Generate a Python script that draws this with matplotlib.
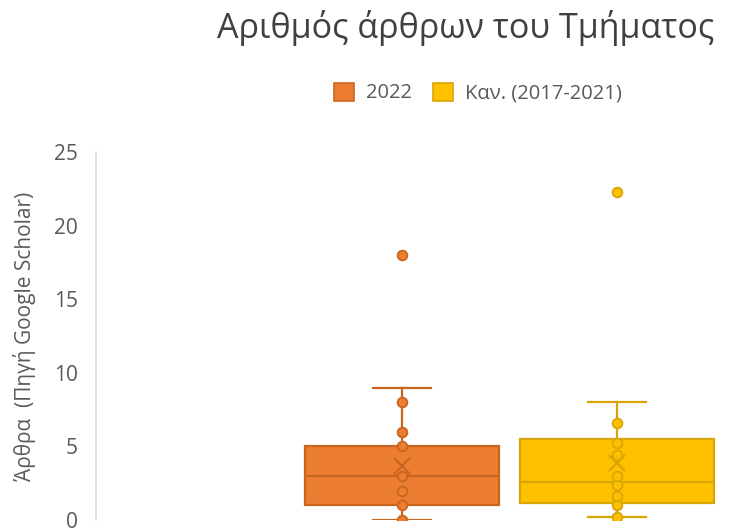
import numpy as np
import matplotlib.pyplot as plt

# series names and colours
series = ["2022", "Καν. (2017-2021)"]
fills = ["#ED7D31", "#FFC000"]
edges = ["#C8661F", "#D9A505"]

# box statistics per series
q1 = [1.0, 1.15]
med = [3.0, 2.6]
q3 = [5.0, 5.5]
whis_lo = [0.0, 0.2]
whis_hi = [9.0, 8.0]
means = [3.67, 3.9]

# individual points (inner points and outliers)
inner_pts = [
    [0, 1, 2, 3, 5, 6, 8],
    [0.2, 1.0, 1.6, 2.4, 3.0, 4.4, 5.2, 6.6],
]
outliers = [[18.0], [22.3]]

plt.rcParams['font.family'] = ['Open Sans', 'DejaVu Sans']
fig = plt.figure(figsize=(7.33, 5.28), dpi=100)
ax = fig.add_axes([96 / 733, 8 / 528, 1 - 96 / 733, 368 / 528])

pos = [0, 1]
stats = []
for i in range(2):
    stats.append(dict(q1=q1[i], med=med[i], q3=q3[i], whislo=whis_lo[i],
                      whishi=whis_hi[i], mean=means[i], fliers=[]))

for i in range(2):
    ax.bxp([stats[i]], positions=[pos[i]], widths=0.905, patch_artist=True,
           showmeans=False, showfliers=False,
           boxprops=dict(facecolor=fills[i], edgecolor=edges[i], linewidth=1.6),
           medianprops=dict(color=edges[i], linewidth=1.6),
           whiskerprops=dict(color=edges[i], linewidth=1.6),
           capprops=dict(color=edges[i], linewidth=1.6),
           capwidths=0.27)
    pts = inner_pts[i] + outliers[i]
    ax.plot([pos[i]] * len(pts), pts, 'o', ms=7, mfc=fills[i], mec=edges[i],
            mew=1.3, zorder=5)
    ax.plot(pos[i], means[i], 'x', ms=12, mec=edges[i], mew=1.6, zorder=6)

ax.set_ylim(0, 25)
ax.set_xlim(-1.423, 1.54)
ax.set_yticks(np.arange(0, 26, 5))
ax.set_xticks([])
for s in ['top', 'right', 'bottom']:
    ax.spines[s].set_visible(False)
ax.spines['left'].set_color('#D9D9D9')
ax.spines['left'].set_linewidth(1.2)
ax.tick_params(axis='y', length=0, pad=13, labelsize=15, labelcolor='#595959')
ax.set_ylabel("Άρθρα  (Πηγή Google Scholar)", fontsize=15, color='#595959',
              labelpad=13)

fig.text(466 / 733, 1 - 28 / 528, "Αριθμός άρθρων του Τμήματος",
         fontsize=24.5, color='#404040', ha='center', va='center')

handles = [plt.Rectangle((0, 0), 1, 1, facecolor=fills[i], edgecolor=edges[i],
                         linewidth=1.2) for i in range(2)]
fig.legend(handles, series, loc='center', bbox_to_anchor=(478 / 733, 1 - 93 / 528),
           ncol=2, frameon=False, fontsize=14.5, labelcolor='#595959',
           handlelength=1.0, handleheight=1.0, columnspacing=1.0, handletextpad=0.6)

fig.savefig("out.png", dpi=100)
